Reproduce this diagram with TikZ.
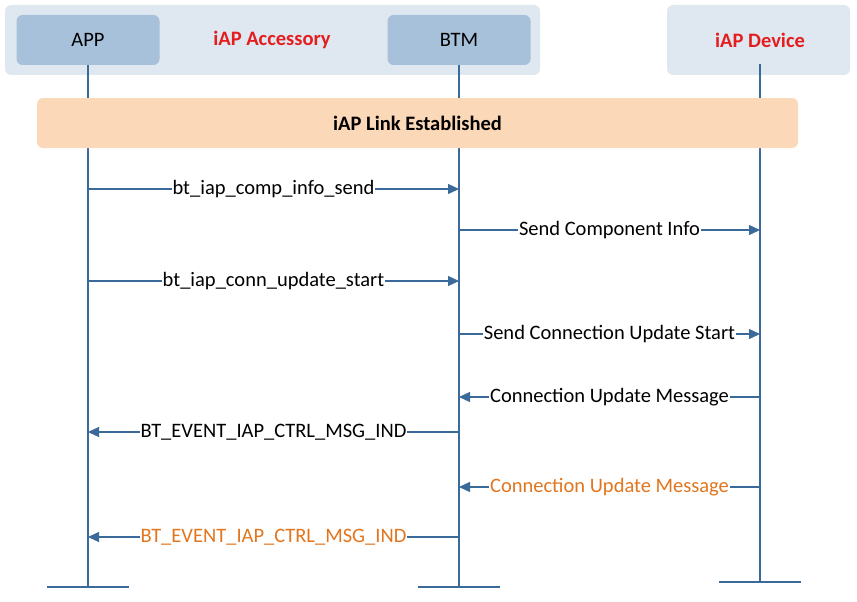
\documentclass[tikz,border=0pt]{standalone}
\usepackage{fontspec}
\setmainfont{Carlito}
\usetikzlibrary{arrows.meta}
\definecolor{lineblue}{HTML}{3A6A9A}
\definecolor{boxblue}{HTML}{A7C1DA}
\definecolor{paleblue}{HTML}{DFE8F1}
\definecolor{peach}{HTML}{FBD8B8}
\definecolor{accred}{HTML}{E41E1E}
\definecolor{msgorange}{HTML}{E2761E}
\tikzset{
  group/.style={fill=paleblue, draw=none, rounded corners=6pt},
  actor/.style={fill=boxblue, draw=none, rounded corners=6pt, minimum width=143pt, minimum height=50pt, font=\fontsize{20.5}{24}\selectfont},
  title/.style={text=accred, font=\fontsize{20.5}{24}\selectfont\bfseries},
  life/.style={lineblue, line width=1.5pt},
  msg/.style={lineblue, line width=1.2pt, -{Triangle[length=11pt,width=10pt]}},
  lbl/.style={fill=white, inner sep=1pt, font=\fontsize{20.5}{24}\selectfont},
}
\begin{document}
\begin{tikzpicture}[x=1pt, y=-1pt]
\useasboundingbox (0,0) rectangle (857,602);
% groups
\fill[group] (5,5) rectangle (540,75);
\fill[group] (667,5) rectangle (850,75);
\node[actor] (app) at (88,40) {APP};
\node[actor] (btm) at (459,40) {BTM};
\node[title] (acc) at (272,40) {iAP Accessory};
\node[title] (dev) at (760,40) {iAP Device};
% lifelines
\coordinate (append) at (88,587);
\coordinate (btmend) at (459,587);
\coordinate (devtop) at (760,64);
\coordinate (devend) at (760,582);
\draw[life] (app.south) -- (append);
\draw[life] (btm.south) -- (btmend);
\draw[life] (devtop) -- (devend);
\draw[life] ([xshift=-41pt]append) -- ([xshift=41pt]append);
\draw[life] ([xshift=-41pt]btmend) -- ([xshift=41pt]btmend);
\draw[life] ([xshift=-41pt]devend) -- ([xshift=41pt]devend);
% link established
\node[fill=peach, rounded corners=6pt, minimum width=761pt, minimum height=50pt,
  font=\fontsize{20.5}{24}\selectfont\bfseries] (link) at (417.5,123) {iAP Link Established};
% messages
\foreach \y/\a/\b/\txt/\col in {
  189/88/459/bt\_iap\_comp\_info\_send/black,
  230/459/760/Send Component Info/black,
  281/88/459/bt\_iap\_conn\_update\_start/black,
  334/459/760/Send Connection Update Start/black,
  397/760/459/Connection Update Message/black,
  432/459/88/BT\_EVENT\_IAP\_CTRL\_MSG\_IND/black,
  487/760/459/Connection Update Message/msgorange,
  537/459/88/BT\_EVENT\_IAP\_CTRL\_MSG\_IND/msgorange}
{
  \coordinate (s) at (\a,\y);
  \coordinate (t) at (\b,\y);
  \draw[msg] (s) -- (t) node[midway, lbl, text=\col] {\txt};
}
\end{tikzpicture}
\end{document}
